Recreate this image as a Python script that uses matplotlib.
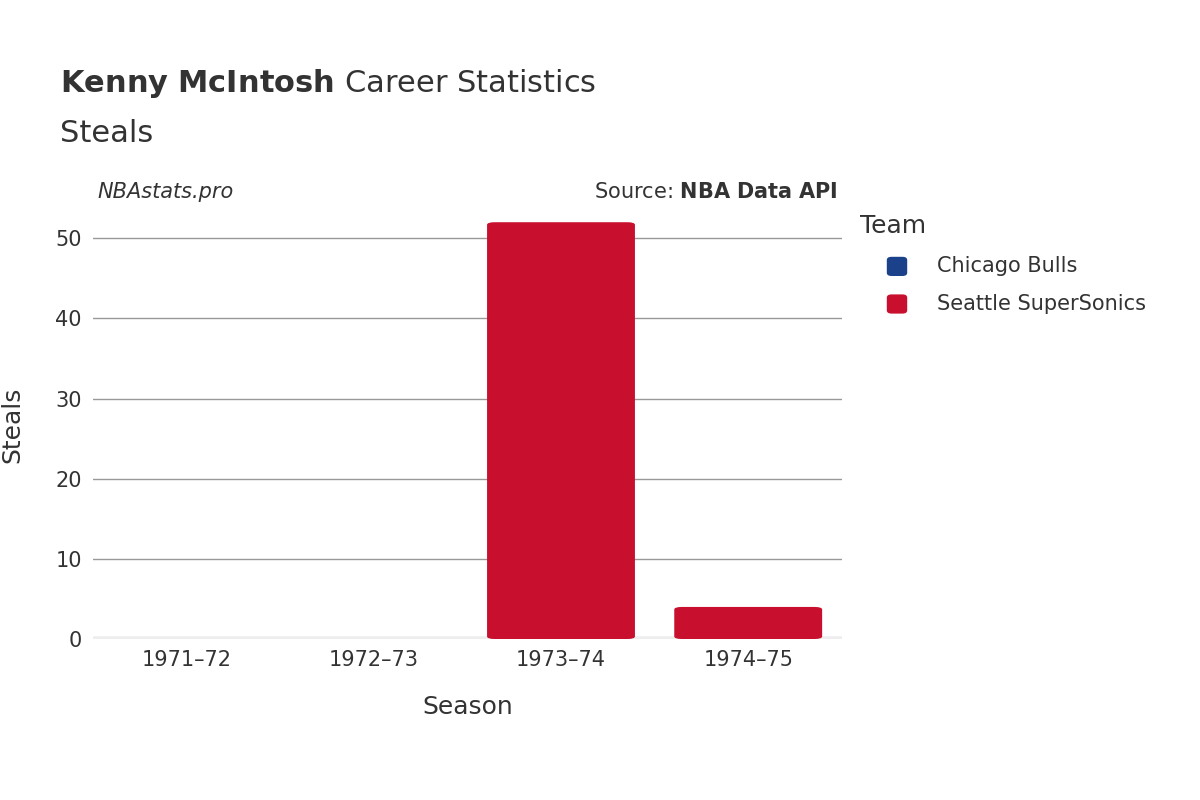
import matplotlib
matplotlib.use("Agg")
import matplotlib.pyplot as plt
from matplotlib.patches import FancyBboxPatch

seasons = ["1971\u201372", "1972\u201373", "1973\u201374", "1974\u201375"]
teams = ["Chicago Bulls", "Seattle SuperSonics"]
team_colors = ["#1a4189", "#c8102e"]
sonics_steals = [0, 0, 52, 4]

fig = plt.figure(figsize=(12, 8), dpi=100)
ax = fig.add_axes([0.0775, 0.20125, 0.624, 0.536])

xpos = list(range(len(seasons)))
width = 0.79
for x, v in zip(xpos, sonics_steals):
    if v <= 0:
        continue
    p = FancyBboxPatch((x - width / 2, 0), width, v,
                       boxstyle="round,pad=0,rounding_size=0.04",
                       mutation_aspect=8, fc=team_colors[1], ec="none", zorder=3)
    ax.add_patch(p)

ax.set_xlim(-0.5, 3.5)
ax.set_ylim(0, 53.5)
ax.set_yticks([0, 10, 20, 30, 40, 50])
ax.set_xticks(xpos)
ax.set_xticklabels(seasons)
ax.grid(axis="y", color="#999999", lw=1, zorder=0)
ax.axhline(0, color="#eeeeee", lw=4, zorder=2)
for s in ax.spines.values():
    s.set_visible(False)
ax.tick_params(length=0, labelsize=15, colors="#333333", pad=8)
ax.set_xlabel("Season", fontsize=18, color="#333333", labelpad=18)
ax.set_ylabel("Steals", fontsize=18, color="#333333", labelpad=22)

fig.text(0.05, 0.875, r"$\bf{Kenny\ McIntosh}$ Career Statistics", fontsize=22,
         color="#333333", va="bottom")
fig.text(0.05, 0.815, "Steals", fontsize=22, color="#333333", va="bottom")
fig.text(0.081, 0.76, "NBAstats.pro", fontsize=15, style="italic",
         color="#333333", va="center")
fig.text(0.698, 0.76, r"Source: $\bf{NBA\ Data\ API}$", fontsize=15,
         color="#333333", va="center", ha="right")

fig.text(0.717, 0.717, "Team", fontsize=18, color="#333333", va="center")
for i, (t, c) in enumerate(zip(teams, team_colors)):
    y = 0.667 - i * 0.047
    fig.patches.append(FancyBboxPatch((0.739, y - 0.012), 0.017, 0.024,
                                      boxstyle="round,pad=0,rounding_size=0.004",
                                      fc=c, ec="none", transform=fig.transFigure))
    fig.text(0.781, y, t, fontsize=15, color="#333333", va="center")

fig.savefig("out.png", dpi=100)
